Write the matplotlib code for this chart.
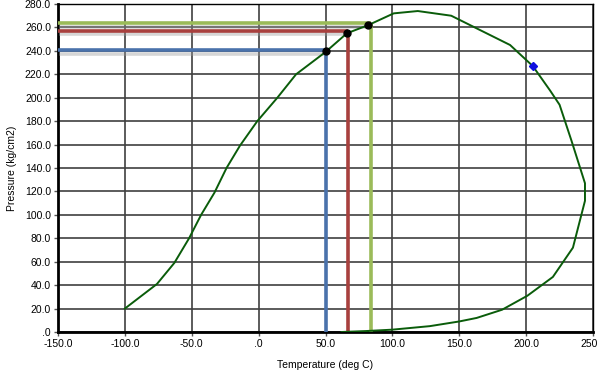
import matplotlib
matplotlib.use("Agg")
import matplotlib.pyplot as plt
import matplotlib.patheffects as pe
from matplotlib.ticker import FuncFormatter, MultipleLocator

# phase envelope (temperature deg C, pressure kg/cm2)
env_temp = [-100, -76, -63, -52, -43, -33, -24, -14, -1, 14, 28, 50, 66, 82,
            101, 119, 144, 188, 205, 218, 225, 234, 244, 244, 235, 220, 201,
            182, 163, 150, 128, 100, 80, 62]
env_pres = [20, 41, 59, 80, 100, 119, 140, 159, 180, 200, 220, 239, 255, 262,
            272, 274, 270, 245, 227, 206, 194, 163, 127, 112, 72, 47, 31,
            19, 12, 9, 5, 2, 0.8, 0]

# operating points on the envelope
pt_temp = [50, 66, 82]
pt_pres = [239.5, 255, 262]
pt_cols = ["#4a72ab", "#a8403e", "#9bbb59"]
line_pres = [240.5, 257, 263.5]
line_temp = [50, 67, 84]

crit_temp = [205]
crit_pres = [227]

plt.rcParams['font.family'] = ['Liberation Sans', 'DejaVu Sans']

fig = plt.figure(figsize=(5.97, 3.70), dpi=100)
ax = fig.add_axes([58 / 597, 1 - 332 / 370, (593 - 58) / 597, (332 - 4) / 370])

ax.set_xlim(-150, 250)
ax.set_ylim(0, 280)
ax.xaxis.set_major_locator(MultipleLocator(50))
ax.yaxis.set_major_locator(MultipleLocator(20))

def fmt(v, pos):
    s = "%.1f" % v
    if s == "0.0":
        return ".0"
    return s

ax.xaxis.set_major_formatter(FuncFormatter(fmt))
ax.yaxis.set_major_formatter(FuncFormatter(fmt))
ax.grid(True, color="#404040", linewidth=1.2)
ax.set_axisbelow(True)
ax.tick_params(labelsize=7.5, length=3, width=1, color="#555555", pad=2)

for side in ["left", "bottom"]:
    ax.spines[side].set_linewidth(2)
for side in ["top", "right"]:
    ax.spines[side].set_linewidth(1)

shadow = [pe.SimpleLineShadow(offset=(0.5, -2.5), shadow_color="#999999", alpha=0.4),
          pe.Normal()]
for lp, lt, c in zip(line_pres, line_temp, pt_cols):
    ax.plot([-150, lt], [lp, lp], color=c, linewidth=2.6, solid_capstyle="butt",
            path_effects=shadow, zorder=3)
    ax.plot([lt, lt], [lp, 0], color=c, linewidth=2.6, solid_capstyle="butt", zorder=3)

ax.plot(env_temp, env_pres, color="#0a5c0a", linewidth=1.4, zorder=4)
ax.plot(pt_temp, pt_pres, "o", color="black", markersize=5, zorder=5)
ax.plot(crit_temp, crit_pres, "D", color="#1010e0", markersize=4.5, zorder=5)

ax.set_xlabel("Temperature (deg C)", fontsize=7.5, labelpad=12)
ax.xaxis.set_label_coords(0.5, -0.085)
ax.set_ylabel("Pressure (kg/cm2)", fontsize=7.5, labelpad=6)

fig.savefig("out.png", dpi=100)
